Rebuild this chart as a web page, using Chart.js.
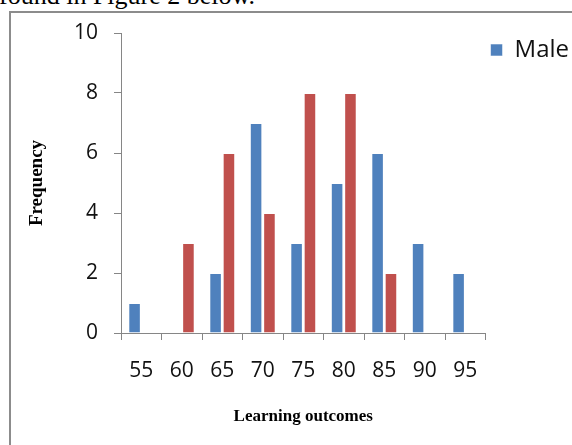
<!DOCTYPE html>
<html>
<head>
<meta charset="utf-8">
<script src="https://cdn.jsdelivr.net/npm/chart.js@4"></script>
<style>
  body { margin: 0; width: 572px; height: 445px; overflow: hidden; background: #fff; position: relative; }
  #caption { position: absolute; left: -1px; top: -19px; font: 26px "Liberation Serif", serif; color: #000; white-space: nowrap; }
  #frame { position: absolute; left: 9px; top: 11px; width: 620px; height: 500px; border: 2px solid #8c8c8c; }
  #chart { position: absolute; left: 0; top: 0; }
</style>
</head>
<body>
<div id="caption">found in Figure 2 below.</div>
<div id="frame"></div>
<canvas id="chart" width="572" height="445"></canvas>
<script>
// values
const categories = ['55', '60', '65', '70', '75', '80', '85', '90', '95'];
const maleValues = [1, 0, 2, 7, 3, 5, 6, 3, 2];
const femaleValues = [0, 3, 6, 4, 8, 8, 2, 0, 0];
const yMax = 10;
const yStep = 2;

const axisGrey = '#868686';
const tickFont = { family: '"Open Sans", sans-serif', size: 21 };

new Chart(document.getElementById('chart'), {
  type: 'bar',
  data: {
    labels: categories,
    datasets: [
      {
        label: 'Male',
        data: maleValues,
        backgroundColor: '#4F81BD',
        borderColor: 'rgba(255,255,255,0.55)',
        borderWidth: 1,
      },
      {
        label: 'Female',
        data: femaleValues,
        backgroundColor: '#C0504D',
        borderColor: 'rgba(255,255,255,0.55)',
        borderWidth: 1,
      },
    ]
  },
  options: {
    responsive: false,
    animation: false,
    datasets: { bar: { categoryPercentage: 0.66, barPercentage: 0.94 } },
    layout: { padding: { left: 12, top: 33, right: -7, bottom: 0 } },
    plugins: {
      tooltip: { enabled: false },
      legend: {
        position: 'right',
        align: 'start',
        labels: {
          // only Male is visible in the figure
          filter: item => item.text === 'Male',
          boxWidth: 12,
          boxHeight: 12,
          padding: 5,
          color: '#111',
          font: { family: '"Open Sans", sans-serif', size: 24 },
        }
      }
    },
    scales: {
      x: {
        afterFit: s => { s.height = 112; },
        grid: { display: true, drawOnChartArea: false, drawTicks: true, tickLength: 7, color: axisGrey },
        border: { color: axisGrey },
        ticks: { color: '#111', font: tickFont, padding: 18, maxRotation: 0 },
        title: { display: true, text: 'Learning outcomes', color: '#000',
          font: { family: '"Liberation Serif", serif', size: 17, weight: 'bold' }, padding: { top: 0, bottom: 18 } }
      },
      y: {
        min: 0,
        max: yMax,
        afterFit: s => { s.width = 109; },
        grid: { display: true, drawOnChartArea: false, drawTicks: true, tickLength: 7, color: axisGrey },
        border: { color: axisGrey },
        ticks: { stepSize: yStep, color: '#111', font: tickFont, padding: 16 },
        title: { display: true, text: 'Frequency', color: '#000',
          font: { family: '"Liberation Serif", serif', size: 19, weight: 'bold' }, padding: { top: 14, bottom: 0 } }
      }
    }
  }
});
</script>
</body>
</html>
